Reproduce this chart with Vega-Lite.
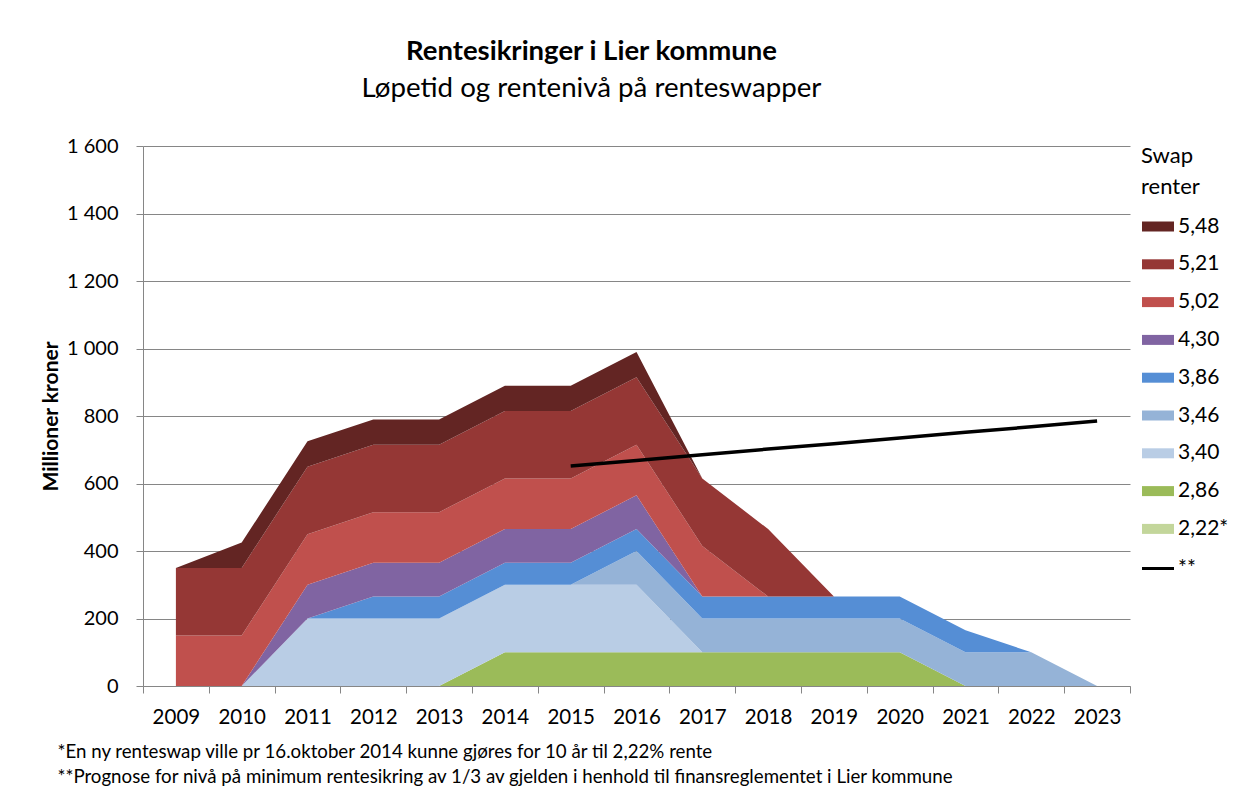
{
  "$schema": "https://vega.github.io/schema/vega-lite/v6.json",
  "width": 987,
  "height": 540,
  "autosize": "none",
  "padding": {"left": 143, "top": 146, "right": 106, "bottom": 116},
  "background": "white",
  "config": {"font": "Lato", "view": {"stroke": null}},
  "title": {
    "text": "Rentesikringer i Lier kommune",
    "subtitle": "Løpetid og rentenivå på renteswapper",
    "anchor": "middle",
    "frame": "group",
    "dx": -45,
    "offset": 33,
    "fontSize": 27.5,
    "fontWeight": "bold",
    "color": "black",
    "subtitleFontSize": 27.7,
    "subtitleColor": "black",
    "subtitlePadding": 10
  },
  "datasets": {
    "swap": [
      {"year": "2009", "rente": "2,22*", "value": 0}, {"year": "2010", "rente": "2,22*", "value": 0}, {"year": "2011", "rente": "2,22*", "value": 0}, {"year": "2012", "rente": "2,22*", "value": 0}, {"year": "2013", "rente": "2,22*", "value": 0}, {"year": "2014", "rente": "2,22*", "value": 0}, {"year": "2015", "rente": "2,22*", "value": 0}, {"year": "2016", "rente": "2,22*", "value": 0}, {"year": "2017", "rente": "2,22*", "value": 0}, {"year": "2018", "rente": "2,22*", "value": 0}, {"year": "2019", "rente": "2,22*", "value": 0}, {"year": "2020", "rente": "2,22*", "value": 0}, {"year": "2021", "rente": "2,22*", "value": 0}, {"year": "2022", "rente": "2,22*", "value": 0}, {"year": "2023", "rente": "2,22*", "value": 0},
      {"year": "2009", "rente": "2,86", "value": 0}, {"year": "2010", "rente": "2,86", "value": 0}, {"year": "2011", "rente": "2,86", "value": 0}, {"year": "2012", "rente": "2,86", "value": 0}, {"year": "2013", "rente": "2,86", "value": 0}, {"year": "2014", "rente": "2,86", "value": 100}, {"year": "2015", "rente": "2,86", "value": 100}, {"year": "2016", "rente": "2,86", "value": 100}, {"year": "2017", "rente": "2,86", "value": 100}, {"year": "2018", "rente": "2,86", "value": 100}, {"year": "2019", "rente": "2,86", "value": 100}, {"year": "2020", "rente": "2,86", "value": 100}, {"year": "2021", "rente": "2,86", "value": 0}, {"year": "2022", "rente": "2,86", "value": 0}, {"year": "2023", "rente": "2,86", "value": 0},
      {"year": "2009", "rente": "3,40", "value": 0}, {"year": "2010", "rente": "3,40", "value": 0}, {"year": "2011", "rente": "3,40", "value": 200}, {"year": "2012", "rente": "3,40", "value": 200}, {"year": "2013", "rente": "3,40", "value": 200}, {"year": "2014", "rente": "3,40", "value": 200}, {"year": "2015", "rente": "3,40", "value": 200}, {"year": "2016", "rente": "3,40", "value": 200}, {"year": "2017", "rente": "3,40", "value": 0}, {"year": "2018", "rente": "3,40", "value": 0}, {"year": "2019", "rente": "3,40", "value": 0}, {"year": "2020", "rente": "3,40", "value": 0}, {"year": "2021", "rente": "3,40", "value": 0}, {"year": "2022", "rente": "3,40", "value": 0}, {"year": "2023", "rente": "3,40", "value": 0},
      {"year": "2009", "rente": "3,46", "value": 0}, {"year": "2010", "rente": "3,46", "value": 0}, {"year": "2011", "rente": "3,46", "value": 0}, {"year": "2012", "rente": "3,46", "value": 0}, {"year": "2013", "rente": "3,46", "value": 0}, {"year": "2014", "rente": "3,46", "value": 0}, {"year": "2015", "rente": "3,46", "value": 0}, {"year": "2016", "rente": "3,46", "value": 100}, {"year": "2017", "rente": "3,46", "value": 100}, {"year": "2018", "rente": "3,46", "value": 100}, {"year": "2019", "rente": "3,46", "value": 100}, {"year": "2020", "rente": "3,46", "value": 100}, {"year": "2021", "rente": "3,46", "value": 100}, {"year": "2022", "rente": "3,46", "value": 100}, {"year": "2023", "rente": "3,46", "value": 0},
      {"year": "2009", "rente": "3,86", "value": 0}, {"year": "2010", "rente": "3,86", "value": 0}, {"year": "2011", "rente": "3,86", "value": 0}, {"year": "2012", "rente": "3,86", "value": 65}, {"year": "2013", "rente": "3,86", "value": 65}, {"year": "2014", "rente": "3,86", "value": 65}, {"year": "2015", "rente": "3,86", "value": 65}, {"year": "2016", "rente": "3,86", "value": 65}, {"year": "2017", "rente": "3,86", "value": 65}, {"year": "2018", "rente": "3,86", "value": 65}, {"year": "2019", "rente": "3,86", "value": 65}, {"year": "2020", "rente": "3,86", "value": 65}, {"year": "2021", "rente": "3,86", "value": 65}, {"year": "2022", "rente": "3,86", "value": 0}, {"year": "2023", "rente": "3,86", "value": 0},
      {"year": "2009", "rente": "4,30", "value": 0}, {"year": "2010", "rente": "4,30", "value": 0}, {"year": "2011", "rente": "4,30", "value": 100}, {"year": "2012", "rente": "4,30", "value": 100}, {"year": "2013", "rente": "4,30", "value": 100}, {"year": "2014", "rente": "4,30", "value": 100}, {"year": "2015", "rente": "4,30", "value": 100}, {"year": "2016", "rente": "4,30", "value": 100}, {"year": "2017", "rente": "4,30", "value": 0}, {"year": "2018", "rente": "4,30", "value": 0}, {"year": "2019", "rente": "4,30", "value": 0}, {"year": "2020", "rente": "4,30", "value": 0}, {"year": "2021", "rente": "4,30", "value": 0}, {"year": "2022", "rente": "4,30", "value": 0}, {"year": "2023", "rente": "4,30", "value": 0},
      {"year": "2009", "rente": "5,02", "value": 150}, {"year": "2010", "rente": "5,02", "value": 150}, {"year": "2011", "rente": "5,02", "value": 150}, {"year": "2012", "rente": "5,02", "value": 150}, {"year": "2013", "rente": "5,02", "value": 150}, {"year": "2014", "rente": "5,02", "value": 150}, {"year": "2015", "rente": "5,02", "value": 150}, {"year": "2016", "rente": "5,02", "value": 150}, {"year": "2017", "rente": "5,02", "value": 150}, {"year": "2018", "rente": "5,02", "value": 0}, {"year": "2019", "rente": "5,02", "value": 0}, {"year": "2020", "rente": "5,02", "value": 0}, {"year": "2021", "rente": "5,02", "value": 0}, {"year": "2022", "rente": "5,02", "value": 0}, {"year": "2023", "rente": "5,02", "value": 0},
      {"year": "2009", "rente": "5,21", "value": 200}, {"year": "2010", "rente": "5,21", "value": 200}, {"year": "2011", "rente": "5,21", "value": 200}, {"year": "2012", "rente": "5,21", "value": 200}, {"year": "2013", "rente": "5,21", "value": 200}, {"year": "2014", "rente": "5,21", "value": 200}, {"year": "2015", "rente": "5,21", "value": 200}, {"year": "2016", "rente": "5,21", "value": 200}, {"year": "2017", "rente": "5,21", "value": 200}, {"year": "2018", "rente": "5,21", "value": 200}, {"year": "2019", "rente": "5,21", "value": 0}, {"year": "2020", "rente": "5,21", "value": 0}, {"year": "2021", "rente": "5,21", "value": 0}, {"year": "2022", "rente": "5,21", "value": 0}, {"year": "2023", "rente": "5,21", "value": 0},
      {"year": "2009", "rente": "5,48", "value": 0}, {"year": "2010", "rente": "5,48", "value": 75}, {"year": "2011", "rente": "5,48", "value": 75}, {"year": "2012", "rente": "5,48", "value": 75}, {"year": "2013", "rente": "5,48", "value": 75}, {"year": "2014", "rente": "5,48", "value": 75}, {"year": "2015", "rente": "5,48", "value": 75}, {"year": "2016", "rente": "5,48", "value": 75}, {"year": "2017", "rente": "5,48", "value": 0}, {"year": "2018", "rente": "5,48", "value": 0}, {"year": "2019", "rente": "5,48", "value": 0}, {"year": "2020", "rente": "5,48", "value": 0}, {"year": "2021", "rente": "5,48", "value": 0}, {"year": "2022", "rente": "5,48", "value": 0}, {"year": "2023", "rente": "5,48", "value": 0}
    ],
    "prognose": [
      {"year": "2015", "rente": "**", "value": 652},
      {"year": "2016", "rente": "**", "value": 668},
      {"year": "2017", "rente": "**", "value": 685},
      {"year": "2018", "rente": "**", "value": 702},
      {"year": "2019", "rente": "**", "value": 718},
      {"year": "2020", "rente": "**", "value": 735},
      {"year": "2021", "rente": "**", "value": 752},
      {"year": "2022", "rente": "**", "value": 768},
      {"year": "2023", "rente": "**", "value": 785}
    ]
  },
  "encoding": {
    "x": {
      "field": "year",
      "type": "ordinal",
      "bandPosition": 0.5,
      "scale": {"type": "band", "paddingInner": 0, "paddingOuter": 0, "domain": ["2009","2010","2011","2012","2013","2014","2015","2016","2017","2018","2019","2020","2021","2022","2023"]},
      "axis": {
        "title": ["*En ny renteswap ville pr 16.oktober 2014 kunne gjøres for 10 år til 2,22% rente", "**Prognose for nivå på minimum rentesikring av 1/3 av gjelden i henhold til finansreglementet  i Lier kommune"],
        "titleX": -86,
        "titleY": 71,
        "titleAlign": "left",
        "titleAnchor": "start",
        "titleBaseline": "alphabetic",
        "titleFontWeight": "normal",
        "titleFontSize": 18.7,
        "titleLineHeight": 25,
        "titleColor": "black",
        "labelAngle": 0,
        "labelFontSize": 20.5,
        "labelColor": "black",
        "labelPadding": 14,
        "tickBand": "extent",
        "tickSize": 7,
        "tickColor": "#868686",
        "domainColor": "#868686",
        "grid": false
      }
    }
  },
  "layer": [
    {
      "data": {"name": "swap"},
      "mark": {"type": "area", "opacity": 1},
      "encoding": {
        "y": {
          "field": "value",
          "type": "quantitative",
          "stack": "zero",
          "scale": {"domain": [0, 1600], "nice": false},
          "axis": {
            "title": "Millioner kroner",
            "titleFontSize": 21,
            "titleFontWeight": "bold",
            "titleColor": "black",
            "titlePadding": 5,
            "values": [0, 200, 400, 600, 800, 1000, 1200, 1400, 1600],
            "labelExpr": "replace(format(datum.value, ','), ',', ' ')",
            "labelFontSize": 20,
            "labelColor": "black",
            "labelPadding": 18,
            "tickSize": 7,
            "tickColor": "#868686",
            "domainColor": "#868686",
            "grid": true,
            "gridColor": "#868686"
          }
        },
        "color": {
          "field": "rente",
          "type": "nominal",
          "scale": {
            "domain": ["5,48", "5,21", "5,02", "4,30", "3,86", "3,46", "3,40", "2,86", "2,22*"],
            "range": ["#632523", "#953735", "#C0504D", "#8064A2", "#558ED5", "#95B3D7", "#B9CDE5", "#9BBB59", "#C3D69B"]
          },
          "legend": {
            "title": ["Swap", "renter"],
            "orient": "right",
            "offset": 11,
            "titleFontSize": 22,
            "titleFontWeight": "normal",
            "titleColor": "black",
            "titleLineHeight": 31,
            "titlePadding": 17,
            "labelFontSize": 21,
            "labelColor": "black",
            "labelOffset": 16,
            "rowPadding": 15.8,
            "symbolSize": 100,
            "symbolOpacity": 1,
            "symbolStrokeWidth": 0,
            "symbolType": "M-1.9,-1H4.5V1H-1.9Z"
          }
        },
        "order": {"field": "rente", "type": "ordinal", "sort": "ascending"}
      }
    },
    {
      "data": {"name": "prognose"},
      "mark": {"type": "line", "strokeWidth": 3.5},
      "encoding": {
        "y": {"field": "value", "type": "quantitative"},
        "stroke": {
          "field": "rente",
          "type": "nominal",
          "scale": {"domain": ["**"], "range": ["#000000"]},
          "legend": {
            "title": null,
            "orient": "right",
            "offset": 0,
            "padding": 11,
            "labelFontSize": 21,
            "labelColor": "black",
            "labelOffset": 5,
            "symbolSize": 100,
            "symbolStrokeWidth": 3,
            "symbolType": "M-4.1,0H2.3"
          }
        }
      }
    }
  ]
}
